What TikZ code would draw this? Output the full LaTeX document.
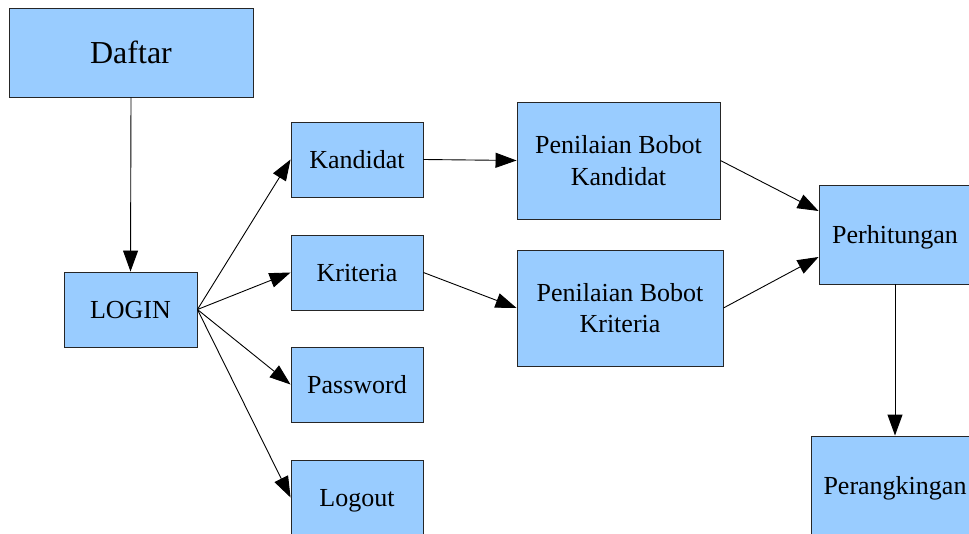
\documentclass[tikz,border=0pt]{standalone}
\usepackage{fontspec}
\setmainfont{Liberation Serif}
\usetikzlibrary{arrows.meta}
\definecolor{boxblue}{HTML}{99CCFF}
\tikzset{
  box/.style={draw=black!85, line width=0.9pt, fill=boxblue, rectangle, inner sep=0pt,
    align=center, font=\fontsize{26}{31.5}\selectfont},
  oneline/.style={text height=17.2pt, text depth=0pt},
  conn/.style={draw=black, line width=0.9pt, -{Triangle[length=21pt,width=15pt]}}
}
\begin{document}
\begin{tikzpicture}[x=1pt,y=-1pt]
\useasboundingbox (0,0) rectangle (969,534);
\clip (0,0) rectangle (969,534);
\node[box, minimum width=244pt, minimum height=89pt, font=\fontsize{32}{38}\selectfont, text height=21.2pt, text depth=0pt] (daftar) at (131,52.5) {Daftar};
\node[box, oneline, minimum width=133pt, minimum height=75pt] (login) at (130.5,309.5) {LOGIN};
\node[box, oneline, minimum width=132pt, minimum height=75pt] (kandidat) at (357,159.5) {Kandidat};
\node[box, oneline, minimum width=132pt, minimum height=75pt] (kriteria) at (357,272.5) {Kriteria};
\node[box, oneline, minimum width=132pt, minimum height=75pt] (password) at (357,384.5) {Password};
\node[box, oneline, minimum width=132pt, minimum height=75pt] (logout) at (357,497.5) {Logout};
\node[box, minimum width=203pt, minimum height=117pt] (pbk) at (618.5,160.5) {Penilaian Bobot\\Kandidat};
\node[box, minimum width=206pt, minimum height=116pt] (pbkr) at (620,308) {Penilaian Bobot\\Kriteria};
\node[box, oneline, minimum width=152pt, minimum height=99pt] (hitung) at (895,234.5) {Perhitungan};
\node[box, oneline, minimum width=168pt, minimum height=99pt] (rank) at (895,485.5) {Perangkingan};

\draw[conn] (daftar.south) -- (login.north);
\draw[conn] (login.east) -- (kandidat.west);
\draw[conn] (login.east) -- (kriteria.west);
\draw[conn] (login.east) -- (password.west);
\draw[conn] (login.east) -- (logout.west);
\draw[conn] (kandidat.east) -- (pbk.west);
\draw[conn] (kriteria.east) -- (pbkr.west);
\draw[conn] (pbk.east) -- ([yshift=23.5pt]hitung.west);
\draw[conn] (pbkr.east) -- ([yshift=-22.5pt]hitung.west);
\draw[conn] (hitung.south) -- (rank.north);
\end{tikzpicture}
\end{document}
